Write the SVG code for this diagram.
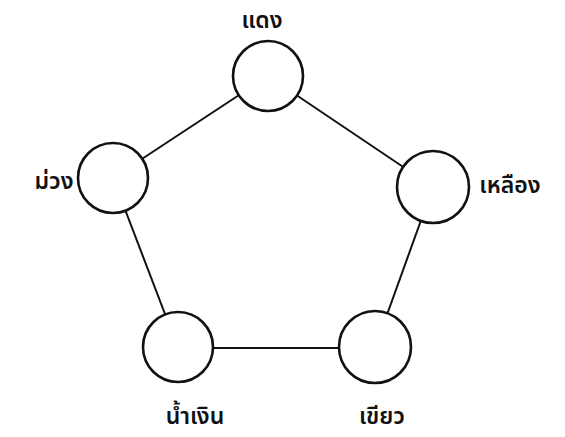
<svg xmlns="http://www.w3.org/2000/svg" width="565" height="437" viewBox="0 0 565 437">
<style>
.node{fill:#fff;stroke:#111;stroke-width:2.6}
.edge{stroke:#111;stroke-width:2;fill:none}
.lbl{font-family:"Noto Sans Thai","Noto Sans","DejaVu Sans",sans-serif;font-size:23px;font-weight:600;fill:#111}
</style>
<rect width="565" height="437" fill="#fff"/>
<g id="connectors">
<line class="edge" x1="113" y1="178" x2="268" y2="76"/>
<line class="edge" x1="268" y1="76" x2="433" y2="187"/>
<line class="edge" x1="433" y1="187" x2="375" y2="348"/>
<line class="edge" x1="178" y1="348" x2="375" y2="348"/>
<line class="edge" x1="113" y1="178" x2="178" y2="348"/>
</g>
<g id="red"><circle class="node" cx="268" cy="76" r="35"/><text class="lbl" x="262" y="28" text-anchor="middle">แดง</text></g>
<g id="purple"><circle class="node" cx="113" cy="178" r="35"/><text class="lbl" x="54" y="189" text-anchor="middle">ม่วง</text></g>
<g id="yellow"><circle class="node" cx="433" cy="187" r="36"/><text class="lbl" x="510" y="193" text-anchor="middle">เหลือง</text></g>
<g id="blue"><circle class="node" cx="178" cy="347" r="35"/><text class="lbl" x="195" y="424" text-anchor="middle">น้ำเงิน</text></g>
<g id="green"><circle class="node" cx="375" cy="347" r="36"/><text class="lbl" x="382" y="424" text-anchor="middle">เขียว</text></g>
</svg>
